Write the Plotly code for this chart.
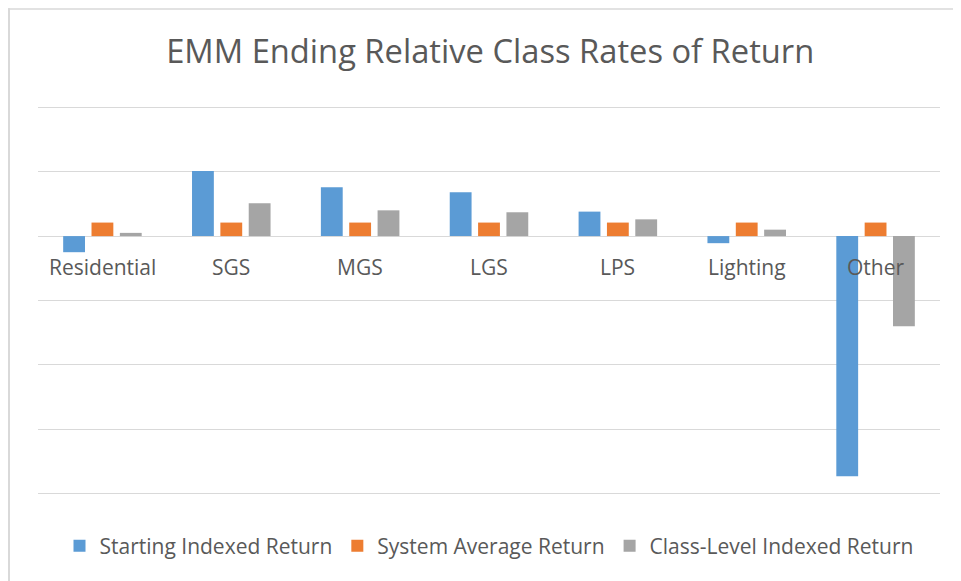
import plotly.graph_objects as go

categories = ["Residential", "SGS", "MGS", "LGS", "LPS", "Lighting", "Other"]
starting_indexed = [-0.25, 1.01, 0.76, 0.68, 0.38, -0.11, -3.73]
system_average = [0.21, 0.21, 0.21, 0.21, 0.21, 0.21, 0.21]
class_level_indexed = [0.05, 0.51, 0.40, 0.37, 0.26, 0.10, -1.40]

series_names = ["Starting Indexed Return", "System Average Return", "Class-Level Indexed Return"]
colors = ["#5B9BD5", "#ED7D31", "#A5A5A5"]

FONT = "Open Sans"
TXT = "#595959"

fig = go.Figure()
for name, vals, col in zip(series_names, [starting_indexed, system_average, class_level_indexed], colors):
    fig.add_trace(go.Bar(x=categories, y=vals, name=name, marker=dict(color=col, line=dict(width=0))))

# page body has an 8px margin, so figure coords = screen coords - 8
W, H = 953, 573
L, R, T, B = 30, 21, 98, 86
pw, ph = W - L - R, H - T - B

def px_to_paper_x(px):
    return (px - L) / pw

def px_to_paper_y(py):
    return (H - B - py) / ph

annotations = [
    dict(x=c, y=0, xref="x", yref="y", text=c, showarrow=False, yanchor="middle", yshift=-31,
         font=dict(family=FONT, size=21, color=TXT))
    for c in categories
]

shapes = [
    dict(type="line", xref="paper", yref="paper", x0=px_to_paper_x(0), x1=px_to_paper_x(960),
         y0=px_to_paper_y(1), y1=px_to_paper_y(1), line=dict(color="#D9D9D9", width=1.5)),
    dict(type="line", xref="paper", yref="paper", x0=px_to_paper_x(1), x1=px_to_paper_x(1),
         y0=px_to_paper_y(0.3), y1=px_to_paper_y(590), line=dict(color="#D9D9D9", width=2)),
]

fig.update_layout(
    width=W, height=H,
    margin=dict(l=L, r=R, t=T, b=B),
    paper_bgcolor="white", plot_bgcolor="white",
    barmode="group", bargap=0.34, bargroupgap=0.23,
    title=dict(text="EMM Ending Relative Class Rates of Return", x=0.506, xanchor="center",
               y=1 - 44 / H, yanchor="middle", font=dict(family=FONT, size=32.7, color=TXT)),
    xaxis=dict(showticklabels=False, showgrid=False, zeroline=False, showline=False, ticks=""),
    yaxis=dict(range=[-4.02, 2.02], tickvals=[-4, -3, -2, -1, 0, 1, 2], showticklabels=False,
               gridcolor="#D9D9D9", gridwidth=1.3,
               zeroline=True, zerolinecolor="#D9D9D9", zerolinewidth=1.3, showline=False, ticks=""),
    legend=dict(orientation="h", x=0.5, xanchor="center", y=px_to_paper_y(538), yanchor="middle",
                font=dict(family=FONT, size=21, color=TXT), itemwidth=30, traceorder="normal"),
    annotations=annotations,
    shapes=shapes,
    showlegend=True,
)

fig.write_html("out.html")
